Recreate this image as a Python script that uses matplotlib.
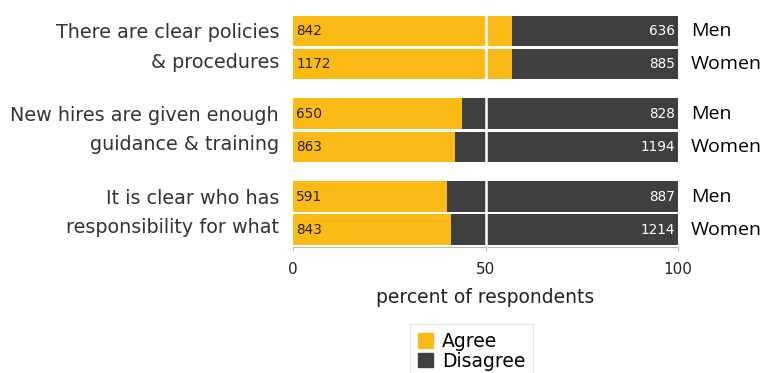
import matplotlib.pyplot as plt
from matplotlib.patches import Patch

# survey counts
questions = ['There are clear policies\n& procedures',
             'New hires are given enough\nguidance & training',
             'It is clear who has\nresponsibility for what']
groups = ['Men', 'Women']
agree = [[842, 1172], [650, 863], [591, 843]]
disagree = [[636, 885], [828, 1194], [887, 1214]]

yellow = '#FBBA16'
dark = '#3F3F3F'

fig = plt.figure(figsize=(7.67, 3.73), dpi=100)
ax = fig.add_axes([293 / 767, 1 - 247 / 373, 385 / 767, 235 / 373])

offsets = [-0.2, 0.2]
for i in range(len(questions)):
    for j in range(len(groups)):
        a = agree[i][j]
        d = disagree[i][j]
        pa = 100 * a / (a + d)
        y = i + offsets[j]
        ax.barh(y, pa, height=0.37, color=yellow, linewidth=0)
        ax.barh(y, 100 - pa, left=pa, height=0.37, color=dark, linewidth=0)
        ax.text(0.8, y, str(a), va='center', ha='left', fontsize=9.8, color='#222222')
        ax.text(99.2, y, str(d), va='center', ha='right', fontsize=9.8, color='white')
        ax.text(103.3, y, groups[j], va='center', ha='left', fontsize=14,
                family='Open Sans', color='black')

ax.axvline(50, color='white', lw=1.8)

ax.set_xlim(0, 100)
ax.set_ylim(2.41, -0.43)
# labels sit a touch above the group centre
ax.set_yticks([i - 0.09 for i in range(len(questions))])
ax.set_yticklabels(questions, fontsize=13.8, color='#333333', linespacing=1.7)
ax.tick_params(axis='y', length=0, pad=10)
ax.set_xticks([0, 50, 100])
ax.set_xticklabels(['0', '50', '100'])
ax.tick_params(axis='x', length=3, color='#bbbbbb', labelsize=11, labelcolor='#222222', pad=8)
for s in ['top', 'right', 'left']:
    ax.spines[s].set_visible(False)
ax.spines['bottom'].set_color('#bbbbbb')
ax.set_xlabel('percent of respondents', fontsize=13.5, color='#222222', labelpad=8)

handles = [Patch(color=yellow, label='Agree'), Patch(color=dark, label='Disagree')]
leg = fig.legend(handles=handles, loc='upper left', bbox_to_anchor=(401 / 767, 1 - 315 / 373),
                 frameon=True, fontsize=13.5, handlelength=0.8, handleheight=0.8,
                 handletextpad=0.5, labelspacing=0.05, borderpad=0.4, fancybox=False)
leg.get_frame().set_edgecolor('#dddddd')
leg.get_frame().set_linewidth(0.8)

fig.savefig('out.png', dpi=100)
